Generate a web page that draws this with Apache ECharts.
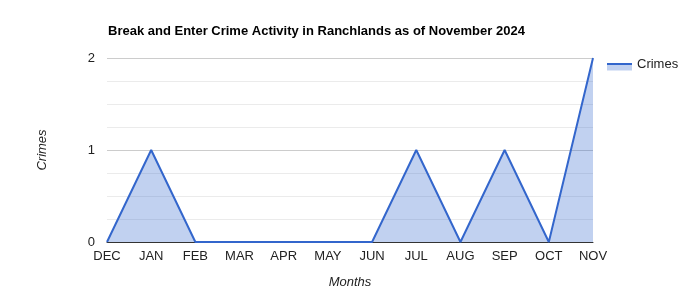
<!DOCTYPE html>
<html><head><meta charset="utf-8">
<script src="https://cdn.jsdelivr.net/npm/echarts@6/dist/echarts.min.js"></script>
<style>html,body{margin:0;padding:0;background:#fff}#c{width:700px;height:300px}</style>
</head><body><div id="c"></div>
<script>
var months = ['DEC','JAN','FEB','MAR','APR','MAY','JUN','JUL','AUG','SEP','OCT','NOV'];
var crimes = [0,1,0,0,0,0,0,1,0,1,0,2];
var seriesName = 'Crimes';
var chart = echarts.init(document.getElementById('c'), null, {renderer:'canvas'});
var font = 'Arial, "Liberation Sans", sans-serif';
chart.setOption({
  animation:false,
  backgroundColor:'#fff',
  title:{text:'Break and Enter Crime Activity in Ranchlands as of November 2024',left:103,top:20,
    textStyle:{fontFamily:font,fontSize:13,fontWeight:'bold',color:'#000'}},
  grid:{left:107,right:107,top:58,bottom:58,containLabel:false},
  legend:{left:602,top:53,icon:'rect',itemWidth:25,itemHeight:7,itemGap:5,
    data:[{name:seriesName,itemStyle:{color:'rgba(0,0,0,0)',opacity:0}}],
    textStyle:{fontFamily:font,fontSize:13,color:'#222'}},
  graphic:[
    {type:'rect',shape:{x:607,y:64,width:25,height:6.5},style:{fill:'rgba(51,102,204,0.3)'}},
    {type:'line',shape:{x1:607,y1:64,x2:632,y2:64},style:{stroke:'#3366cc',lineWidth:2}}],
  xAxis:{type:'category',data:months,boundaryGap:false,
    name:'Months',nameLocation:'middle',nameGap:34,
    nameTextStyle:{fontFamily:font,fontSize:13,fontStyle:'italic',color:'#222'},
    axisLine:{lineStyle:{color:'#333',width:1}},axisTick:{show:false},
    axisLabel:{fontFamily:font,fontSize:13,color:'#222',margin:8,interval:0},
    splitLine:{show:false}},
  yAxis:{type:'value',min:0,max:2,interval:1,
    name:'Crimes',nameLocation:'middle',nameGap:58,nameRotate:90,
    nameTextStyle:{fontFamily:font,fontSize:13,fontStyle:'italic',color:'#222'},
    axisLine:{show:false},axisTick:{show:false},
    axisLabel:{fontFamily:font,fontSize:13,color:'#222',margin:12},
    splitLine:{lineStyle:{color:'#cccccc'}},
    minorTick:{show:false,splitNumber:4},
    minorSplitLine:{show:true,lineStyle:{color:'#ebebeb'}}},
  series:[{name:seriesName,type:'line',data:crimes,symbol:'none',
    lineStyle:{color:'#3366cc',width:2},itemStyle:{color:'#3366cc'},
    areaStyle:{color:'rgba(51,102,204,0.3)',opacity:1}}]
});
</script></body></html>
